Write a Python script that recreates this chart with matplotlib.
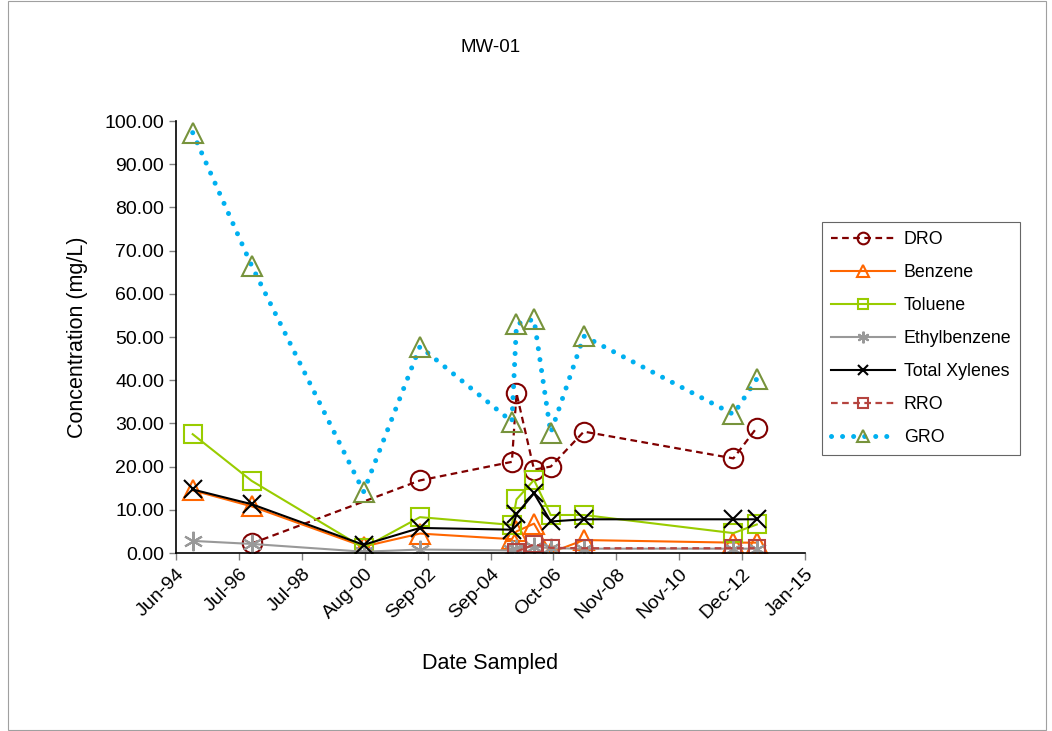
import datetime as dt
import numpy as np
import matplotlib
matplotlib.use('Agg')
import matplotlib.pyplot as plt
import matplotlib.dates as mdates
from matplotlib.patches import Rectangle

plt.rcParams['font.family'] = ['Liberation Sans', 'DejaVu Sans']

# sample dates
sample_dates = ['1995-01-06', '1996-12-09', '2000-08-05', '2002-06-08', '2005-06-08',
                '2005-08-02', '2006-02-27', '2006-09-14', '2007-10-14', '2012-08-31',
                '2013-06-06']

# concentrations in mg/L, None = not sampled
dro = [None, 2.2, None, 16.8, 21.1, 37.0, 19.3, 20.0, 28.1, 21.9, 29.0]
benzene = [14.5, 10.8, 1.5, 4.5, 3.2, 5.0, 6.8, 0.1, 3.0, 2.4, 2.4]
toluene = [27.5, 16.7, 1.2, 8.3, 6.5, 12.4, 16.9, 8.8, 8.8, 4.6, 6.6]
ethylbenzene = [2.8, 2.1, 0.3, 0.8, 0.6, 1.0, 1.5, 1.1, 1.0, 1.0, 1.0]
xylenes = [14.7, 11.3, 1.9, 5.8, 5.4, 9.0, 13.8, 7.3, 7.8, 7.8, 7.8]
rro = [None, None, None, None, None, 0.3, 2.0, 1.2, 1.1, 1.1, 1.1]
gro = [97.3, 66.5, 14.2, 47.8, 30.4, 53.0, 54.1, 27.8, 50.2, 32.1, 40.3]

dates = [dt.datetime.strptime(d, '%Y-%m-%d') for d in sample_dates]

fig = plt.figure(figsize=(10.52, 7.31), dpi=100)
ax = fig.add_axes([176 / 1052, 178 / 731, 629 / 1052, 432 / 731])

# chart area border
fig.patches.append(Rectangle((8 / 1052, 1 / 731), 1038 / 1052, 729 / 731,
                             transform=fig.transFigure, fill=False,
                             edgecolor='#a0a0a0', linewidth=0.8))


def plot_series(values, label, color, marker, ms, mec, ls='-', lw=1.5, **kw):
    xs = [d for d, v in zip(dates, values) if v is not None]
    ys = [v for v in values if v is not None]
    ax.plot(xs, ys, color=color, linestyle=ls, linewidth=lw, marker=marker,
            markersize=ms, markerfacecolor='none', markeredgecolor=mec,
            markeredgewidth=1.5, label=label, **kw)


plot_series(dro, 'DRO', '#800000', 'o', 14, '#800000', ls=(0, (3, 2)), lw=1.6)
plot_series(benzene, 'Benzene', '#ff6600', '^', 14, '#ff6600')
plot_series(toluene, 'Toluene', '#99cc00', 's', 13, '#99cc00')
plot_series(ethylbenzene, 'Ethylbenzene', '#999999', (6, 2, 0), 14, '#999999')
plot_series(xylenes, 'Total Xylenes', '#000000', 'x', 13, '#000000')
plot_series(rro, 'RRO', '#b5443f', 's', 11, '#b5443f', ls=(0, (3, 2)), lw=1.6)
plot_series(gro, 'GRO', '#00b0f0', '^', 15, '#77933c', ls=(0, (0.01, 2.2)), lw=3.6,
            dash_capstyle='round')

# x axis: ticks every 750 days starting Jun-94
start = dt.datetime(1994, 6, 21)
xticks = [start + dt.timedelta(days=750 * k) for k in range(11)]
ax.set_xlim(xticks[0], xticks[-1])
ax.set_xticks(xticks)
ax.xaxis.set_major_formatter(mdates.DateFormatter('%b-%y'))
plt.setp(ax.get_xticklabels(), rotation=45, ha='right', rotation_mode='anchor')

ax.set_ylim(0, 100)
ax.set_yticks(np.arange(0, 101, 10))
ax.yaxis.set_major_formatter(matplotlib.ticker.FormatStrFormatter('%.2f'))

ax.spines['top'].set_visible(False)
ax.spines['right'].set_visible(False)
ax.spines['left'].set_linewidth(1.2)
ax.spines['bottom'].set_linewidth(1.2)
ax.tick_params(axis='both', labelsize=14, length=5, width=1, color='#808080',
               direction='out')
ax.tick_params(axis='x', pad=4)

ax.set_title('MW-01', fontsize=13.5, pad=50)
ax.set_xlabel('Date Sampled', fontsize=15.5, labelpad=22)
ax.set_ylabel('Concentration (mg/L)', fontsize=15.5, labelpad=12)

leg = ax.legend(loc='upper left', bbox_to_anchor=(822 / 1052, 1 - 222 / 731),
                bbox_transform=fig.transFigure, fontsize=12.8, frameon=True,
                fancybox=False, edgecolor='#404040', handlelength=3.6,
                labelspacing=0.9, markerscale=0.6, borderpad=0.5,
                handletextpad=0.5, borderaxespad=0)
leg.get_frame().set_linewidth(0.8)

fig.savefig('out.png', dpi=100)
plt.close(fig)
